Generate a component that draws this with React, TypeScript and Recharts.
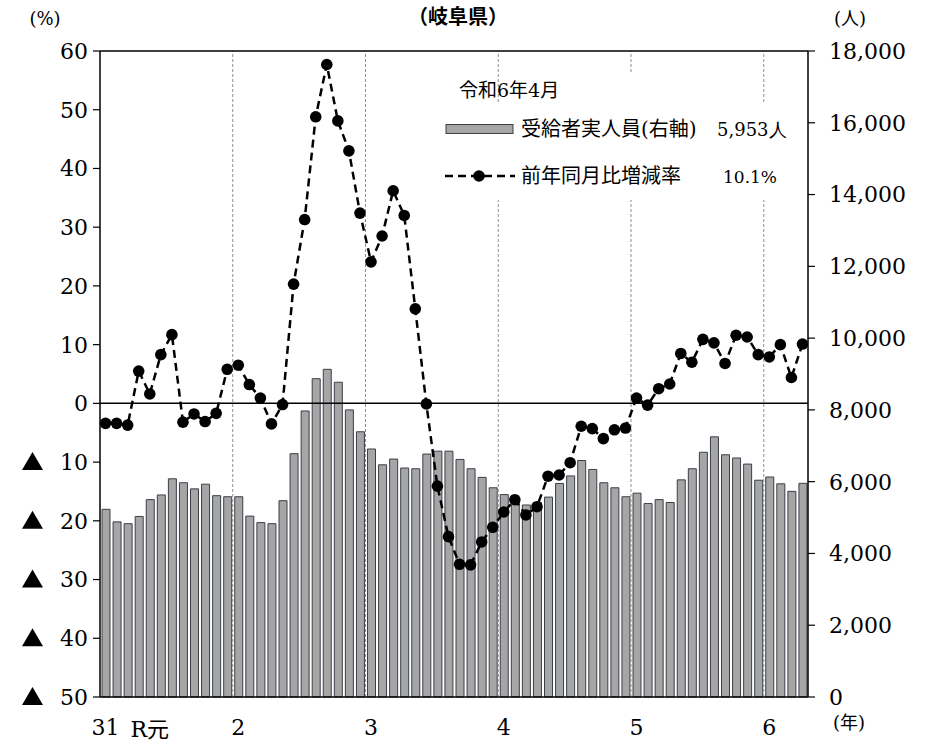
import React from 'react';
import { ComposedChart, Bar, Line, XAxis, YAxis, ReferenceLine } from 'recharts';

const months = [
  '2019/1','2019/2','2019/3','2019/4','2019/5','2019/6','2019/7','2019/8','2019/9','2019/10','2019/11','2019/12',
  '2020/1','2020/2','2020/3','2020/4','2020/5','2020/6','2020/7','2020/8','2020/9','2020/10','2020/11','2020/12',
  '2021/1','2021/2','2021/3','2021/4','2021/5','2021/6','2021/7','2021/8','2021/9','2021/10','2021/11','2021/12',
  '2022/1','2022/2','2022/3','2022/4','2022/5','2022/6','2022/7','2022/8','2022/9','2022/10','2022/11','2022/12',
  '2023/1','2023/2','2023/3','2023/4','2023/5','2023/6','2023/7','2023/8','2023/9','2023/10','2023/11','2023/12',
  '2024/1','2024/2','2024/3','2024/4',
];

const recipients = [
  5230, 4880, 4830, 5030, 5500, 5630, 6080, 5970, 5800, 5930, 5610, 5580,
  5580, 5040, 4860, 4830, 5470, 6780, 7970, 8870, 9130, 8770, 8000, 7390,
  6910, 6470, 6630, 6380, 6360, 6770, 6850, 6850, 6620, 6360, 6120, 5830,
  5640, 5510, 5350, 5420, 5570, 5950, 6160, 6590, 6340, 5970, 5830, 5580,
  5680, 5390, 5500, 5420, 6050, 6360, 6820, 7250, 6750, 6660, 6490, 6040,
  6130, 5940, 5730, 5953,
];

const changeRate = [
  -3.4, -3.4, -3.7, 5.5, 1.6, 8.3, 11.7, -3.2, -1.8, -3.1, -1.7, 5.8,
  6.5, 3.2, 0.9, -3.5, -0.2, 20.3, 31.3, 48.8, 57.7, 48.1, 43.0, 32.4,
  24.1, 28.5, 36.2, 32.0, 16.1, -0.1, -14.1, -22.7, -27.4, -27.5, -23.6, -21.1,
  -18.5, -16.4, -19.0, -17.6, -12.4, -12.2, -10.1, -3.9, -4.3, -6.0, -4.5, -4.2,
  0.9, -0.3, 2.5, 3.3, 8.5, 7.0, 10.9, 10.3, 6.8, 11.6, 11.3, 8.3,
  7.9, 10.0, 4.4, 10.1,
];

const xLabels: Record<string, string> = {
  '2019/1': '31',
  '2019/5': 'R元',
  '2020/1': '2',
  '2021/1': '3',
  '2022/1': '4',
  '2023/1': '5',
  '2024/1': '6',
};

const yearStarts = ['2020/1', '2021/1', '2022/1', '2023/1', '2024/1'];
const leftTicks = [-50, -40, -30, -20, -10, 0, 10, 20, 30, 40, 50, 60];
const rightTicks = [0, 2000, 4000, 6000, 8000, 10000, 12000, 14000, 16000, 18000];

const legendTitle = '令和6年4月';
const barLegend = '受給者実人員(右軸)';
const barLegendValue = '5,953人';
const lineLegend = '前年同月比増減率';
const lineLegendValue = '10.1%';

const data = months.map((m, i) => ({ month: m, recipients: recipients[i], rate: changeRate[i] }));

const SERIF = "'DejaVu Serif', 'Liberation Serif', serif";
const MIXED = "'DejaVu Serif', 'Noto Sans CJK JP', serif";
const CJK = "'Noto Sans CJK JP', sans-serif";

const XTick = (props: any) => {
  const { x, y, payload } = props;
  const lab = xLabels[payload.value];
  if (!lab) return <g />;
  const lower = lab === 'R元';
  return (
    <text x={x} y={y + (lower ? 32 : 30)} textAnchor="middle" fontFamily={MIXED} fontSize={22} fill="#000">
      {lab}
    </text>
  );
};

const LeftTick = (props: any) => {
  const { x, y, payload } = props;
  const v = payload.value as number;
  return (
    <g>
      <text x={x} y={y} dy="0.36em" textAnchor="end" fontFamily={SERIF} fontSize={22} fill="#000">
        {Math.abs(v)}
      </text>
      {v < 0 && (
        <path d={`M${x - 66},${y + 8} L${x - 45},${y + 8} L${x - 55.5},${y - 10} Z`} fill="#000" />
      )}
    </g>
  );
};

const RightTick = (props: any) => {
  const { x, y, payload } = props;
  const v = payload.value as number;
  return (
    <text x={x} y={y} dy="0.36em" textAnchor="start" fontFamily={SERIF} fontSize={22} fill="#000">
      {v.toLocaleString('en-US')}
    </text>
  );
};

export default function App() {
  return (
    <div style={{ position: 'absolute', left: 0, top: 0, width: 926, height: 743, background: '#fff' }}>
      <ComposedChart
        width={926}
        height={743}
        data={data}
        margin={{ top: 51, right: 0, bottom: 0, left: 0 }}
        barSize={8}
      >
        <XAxis
          dataKey="month"
          interval={0}
          tickLine={false}
          axisLine={{ stroke: '#000', strokeWidth: 1.5 }}
          height={46}
          tick={(p: any) => <XTick {...p} />}
        />
        <YAxis
          yAxisId="left"
          orientation="left"
          width={100}
          domain={[-50, 60]}
          ticks={leftTicks}
          interval={0}
          tickSize={7}
          tickMargin={5}
          axisLine={{ stroke: '#000', strokeWidth: 1.5 }}
          tickLine={{ stroke: '#000', strokeWidth: 1.2 }}
          tick={(p: any) => <LeftTick {...p} />}
        />
        <YAxis
          yAxisId="right"
          orientation="right"
          width={118}
          domain={[0, 18000]}
          ticks={rightTicks}
          interval={0}
          tickSize={7}
          tickMargin={14}
          axisLine={{ stroke: '#000', strokeWidth: 1.5 }}
          tickLine={{ stroke: '#000', strokeWidth: 1.2 }}
          tick={(p: any) => <RightTick {...p} />}
        />
        {yearStarts.map((m) => (
          <ReferenceLine
            key={m}
            x={m}
            yAxisId="left"
            position="start"
            stroke="#8c8c8c"
            strokeWidth={1}
            strokeDasharray="3 2"
          />
        ))}
        <Bar
          yAxisId="right"
          dataKey="recipients"
          fill="#a6a6a6"
          stroke="#3b3f48"
          strokeWidth={1}
          isAnimationActive={false}
        />
        <ReferenceLine y={60} yAxisId="left" stroke="#000" strokeWidth={1.5} />
        <ReferenceLine y={0} yAxisId="left" stroke="#000" strokeWidth={1.5} />
        <Line
          yAxisId="left"
          type="linear"
          dataKey="rate"
          stroke="#000"
          strokeWidth={2.5}
          strokeDasharray="8 5"
          dot={{ r: 5.8, fill: '#000', stroke: 'none', strokeDasharray: '' }}
          activeDot={false}
          isAnimationActive={false}
        />
      </ComposedChart>
      <svg
        width={926}
        height={743}
        style={{ position: 'absolute', left: 0, top: 0, pointerEvents: 'none' }}
      >
        <text x={458} y={24} textAnchor="middle" fontFamily={CJK} fontWeight={700} fontSize={20} fill="#000">
          （岐阜県）
        </text>
        <text x={45} y={25} textAnchor="middle" fontFamily={MIXED} fontSize={18} fill="#000">(%)</text>
        <text x={850} y={25} textAnchor="middle" fontFamily={MIXED} fontSize={18} fill="#000">(人)</text>
        <text x={849} y={729} textAnchor="middle" fontFamily={MIXED} fontSize={18} fill="#000">(年)</text>
        <rect x={446} y={103} width={348} height={97} fill="#fff" />
        <rect x={612} y={73} width={40} height={32} fill="#fff" />
        <text x={459} y={97} fontFamily={MIXED} fontSize={19} fill="#000">{legendTitle}</text>
        <rect x={446} y={124.5} width={67} height={9} fill="#a6a6a6" stroke="#3b3f48" strokeWidth={1} />
        <text x={521} y={136} fontFamily={MIXED} fontSize={20} fill="#000">{barLegend}</text>
        <text x={717} y={136} fontFamily={SERIF} fontSize={18} fill="#000">{barLegendValue}</text>
        <line x1={445} y1={176} x2={515} y2={176} stroke="#000" strokeWidth={2.5} strokeDasharray="8 5" />
        <circle cx={479} cy={176} r={5.8} fill="#000" />
        <text x={521} y={183} fontFamily={MIXED} fontSize={20} fill="#000">{lineLegend}</text>
        <text x={723} y={183} fontFamily={SERIF} fontSize={17} fill="#000">{lineLegendValue}</text>
      </svg>
    </div>
  );
}
